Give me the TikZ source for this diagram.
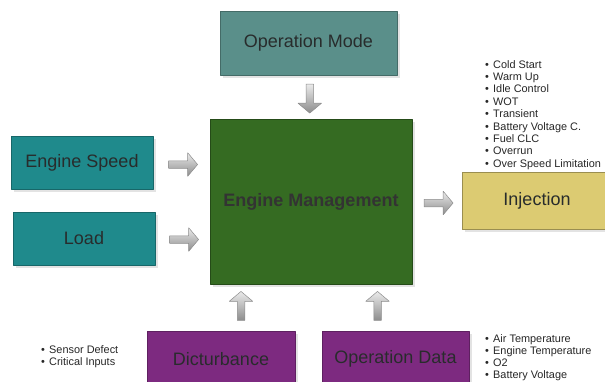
\documentclass[tikz,border=0pt]{standalone}
\usepackage{fontspec}
\setmainfont{Liberation Sans}
\usetikzlibrary{calc,positioning,shapes.arrows,shadows}
\definecolor{modeteal}{RGB}{90,143,138}
\definecolor{inteal}{RGB}{31,138,140}
\definecolor{emgreen}{RGB}{53,107,34}
\definecolor{injkhaki}{RGB}{220,203,114}
\definecolor{distpurple}{RGB}{125,42,128}
\definecolor{boxtext}{RGB}{40,44,44}
\newcommand{\itm}{\makebox[8pt][l]{\textbullet}}
\tikzset{
  every picture/.style={line join=round},
  box/.style={draw,line width=.5pt,font=\fontsize{18}{20}\selectfont,
    text=boxtext,inner sep=0pt,
    drop shadow={opacity=.22,shadow xshift=2.5pt,shadow yshift=-2.5pt}},
  modebox/.style={box,fill=modeteal,draw=modeteal!75!black,
    minimum width=177pt,minimum height=64pt},
  inbox/.style={box,fill=inteal,draw=inteal!75!black,
    minimum width=142pt,minimum height=53pt},
  embox/.style={box,fill=emgreen,draw=emgreen!70!black,
    minimum width=202pt,minimum height=165pt,font=\fontsize{18}{20}\selectfont\bfseries,
    text=black!80},
  injbox/.style={box,fill=injkhaki,draw=injkhaki!70!black,
    minimum width=150pt,minimum height=57pt},
  distbox/.style={box,fill=distpurple,draw=distpurple!75!black,
    minimum width=148pt,minimum height=56pt},
  blockarrow/.style={single arrow,draw=black!45,line width=.5pt,
    top color=black!8,bottom color=black!45,
    inner sep=3.5pt,single arrow head extend=8pt,single arrow tip angle=100,
    minimum height=29pt},
  bulletlist/.style={align=left,anchor=north west,inner sep=0pt,
    font=\fontsize{10.9}{12.4}\selectfont,text=black!85}
}
\begin{document}
\begin{tikzpicture}[x=1pt,y=-1pt]
  \useasboundingbox (0,0) rectangle (605,381);

  % The blocks.
  \node[modebox] (opmode) at (308.5,43) {Operation Mode};
  \node[embox] (em) at (311,201.5) {Engine Management};
  \node[inbox] (speed) at (82,162.5) {Engine Speed};
  \node[inbox] (load) at (84,238.5) {Load};
  \node[injbox] (inj) at (537,201) {Injection};
  \node[distbox] (dist) at (221,359) {Dicturbance};
  \node[distbox,minimum width=147pt] (opdata) at (395.5,359) {Operation Data};

  % Block arrows into and out of the engine management.
  \node[blockarrow,shape border rotate=270] (arrMode)
    at ($(opmode.south)!.5!(em.north)$) {};
  \node[blockarrow] (arrSpeed)
    at ($(speed.east)!.5!(em.west|-speed.east)+(0,2)$) {};
  \node[blockarrow] (arrLoad)
    at ($(load.east)!.5!(em.west|-load.east)+(0,1)$) {};
  \node[blockarrow] (arrInj)
    at ($(em.east|-inj.west)!.5!(inj.west)+(0,2)$) {};
  \node[blockarrow,shape border rotate=90] (arrDist)
    at ($(dist.north)!.5!(dist.north|-em.south)+(20,0)$) {};
  \node[blockarrow,shape border rotate=90] (arrData)
    at ($(opdata.north)!.5!(opdata.north|-em.south)+(-18,0)$) {};

  % Bullet lists.
  \node[bulletlist] (modelist) at (485,60)
    {\itm Cold Start\\ \itm Warm Up\\ \itm Idle Control\\
     \itm WOT\\ \itm Transient\\ \itm Battery Voltage C.\\
     \itm Fuel CLC\\ \itm Overrun\\ \itm Over Speed Limitation};
  \node[bulletlist] (faultlist) at (41,345)
    {\itm Sensor Defect\\ \itm Critical Inputs};
  \node[bulletlist,font=\fontsize{10.9}{12}\selectfont] (datalist) at (485,334)
    {\itm Air Temperature\\ \itm Engine Temperature\\
     \itm O2\\ \itm Battery Voltage};
\end{tikzpicture}
\end{document}
